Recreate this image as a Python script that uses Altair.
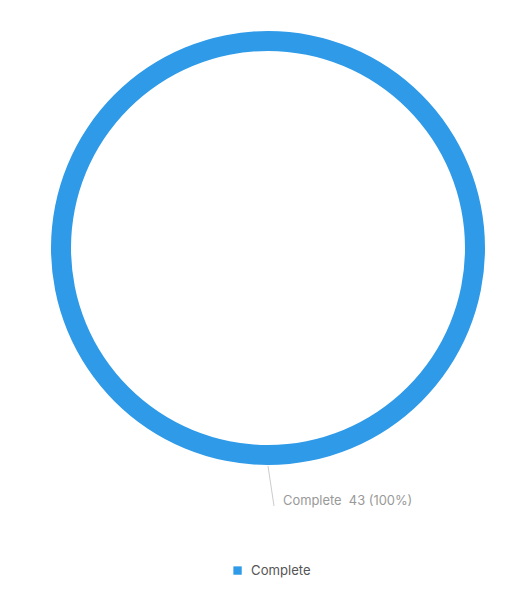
import altair as alt
import pandas as pd

categories = ["Complete"]
counts = [43]
colors = ["#2e9ae8"]

total = sum(counts)
df = pd.DataFrame({
    "category": categories,
    "count": counts,
    "label": [f"{c}\u00a0 {n} ({round(100 * n / total)}%)" for c, n in zip(categories, counts)],
})

W, H = 507, 579
CX, CY = 260, 240
R_OUT, R_IN = 217, 197

color = alt.Color(
    "category:N",
    scale=alt.Scale(domain=categories, range=colors),
    legend=alt.Legend(
        title=None, orient="none", legendX=223, legendY=556,
        symbolType="square", symbolSize=70, symbolStrokeWidth=0,
        labelFont="Inter", labelFontSize=13.1, labelColor="#555555",
        labelOffset=7, padding=0,
    ),
)

donut = alt.Chart(df).mark_arc(
    outerRadius=R_OUT, innerRadius=R_IN, stroke=None
).encode(
    theta=alt.Theta("count:Q", stack=True),
    color=color,
    x=alt.value(CX), y=alt.value(CY),
)

leader = alt.Chart(df).mark_rule(color="#cccccc", strokeWidth=1).encode(
    x=alt.value(CX), y=alt.value(CY + R_OUT + 1),
    x2=alt.value(CX + 6), y2=alt.value(CY + R_OUT + 41),
)

label = alt.Chart(df).mark_text(
    align="left", baseline="middle", font="Inter", fontSize=12.9, color="#999999"
).encode(
    text="label:N",
    x=alt.value(CX + 15), y=alt.value(CY + R_OUT + 36),
)

chart = alt.layer(donut, leader, label).properties(
    width=W, height=H, autosize=alt.AutoSizeParams(type="none"), padding=0
).configure_view(stroke=None)

chart.save("out.html", embed_options={"renderer": "svg", "actions": False})
